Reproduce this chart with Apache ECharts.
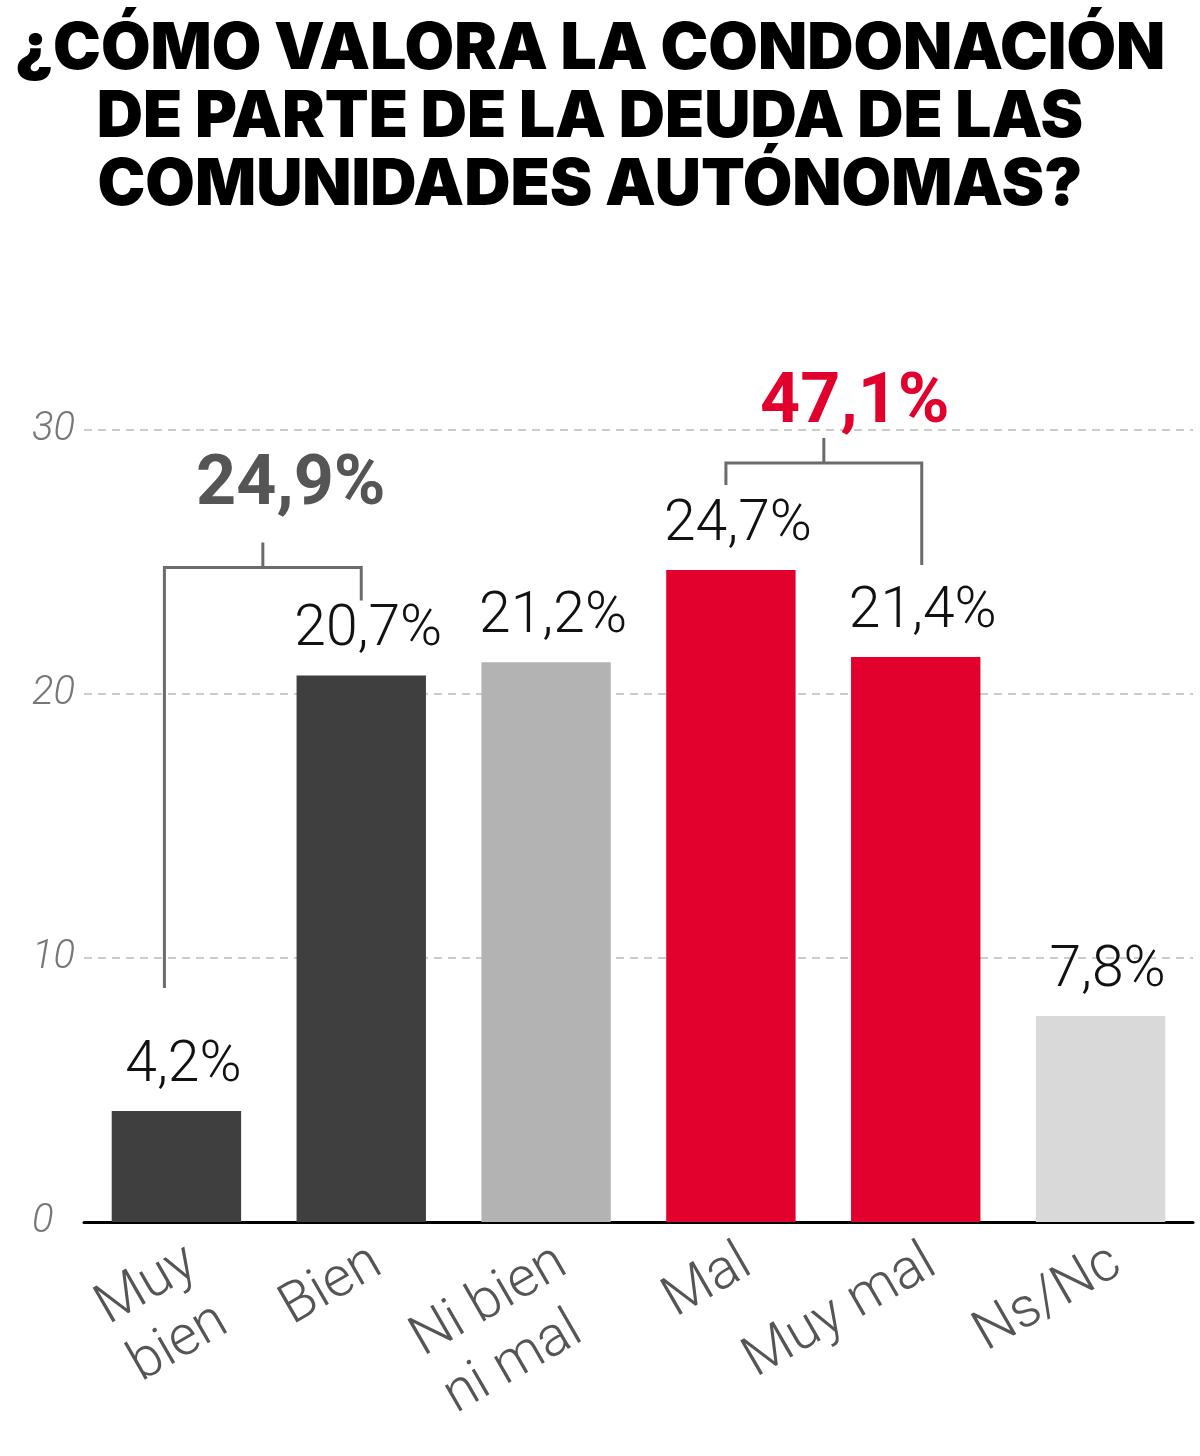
<!DOCTYPE html>
<html><head><meta charset="utf-8">
<script src="https://cdn.jsdelivr.net/npm/echarts@6/dist/echarts.min.js"></script>
<style>html,body{margin:0;padding:0;background:#fff}#c{width:1200px;height:1456px}</style>
</head><body><div id="c"></div>
<script>
// ---- data ----
const categories = ['Muy\nbien', 'Bien', 'Ni bien\nni mal', 'Mal', 'Muy mal', 'Ns/Nc'];
const values = [4.2, 20.7, 21.2, 24.7, 21.4, 7.8];
const yTicks = [0, 10, 20, 30];
const bracketFrom = [0, 3];
const bracketTo = [1, 4];
const bracketTotals = [24.9, 47.1];
const titleText = '¿CÓMO VALORA LA CONDONACIÓN\nDE PARTE DE LA DEUDA DE LAS\nCOMUNIDADES AUTÓNOMAS?';

// ---- styling (not data) ----
const barColors = ['#3f3f3f', '#3f3f3f', '#b3b3b3', '#e2002d', '#e2002d', '#d9d9d9'];
const bracketStyle = [
  {legGap: [123, 75], levelGap: 108, labelGap: 46, labelDx: 28, color: '#555555', dxL: -12, dxR: 0},
  {legGap: [85, 92], levelGap: 107, labelGap: 23, labelDx: 31, color: '#e2002d', dxL: -5, dxR: 6}
];
const fmt = v => v.toFixed(1).replace('.', ',') + '%';

const chart = echarts.init(document.getElementById('c'));
chart.setOption({
  animation: false,
  graphic: [{
    type: 'text', x: 590, y: 16,
    style: {text: titleText, align: 'center', verticalAlign: 'top', fill: '#000',
      fontFamily: 'Inter', fontWeight: 900, fontSize: 64, lineHeight: 68}
  }],
  grid: {left: 84, right: 7, top: 430, bottom: 234},
  xAxis: {
    type: 'category', data: categories,
    axisLine: {lineStyle: {color: '#000', width: 3}},
    axisTick: {show: false},
    axisLabel: {
      rotate: 30, interval: 0, margin: 9, align: 'right', verticalAlign: 'top',
      formatter: v => v.split('\n').map(s => '{l|' + s + '}').join('\n'),
      rich: {l: {align: 'left', fontFamily: 'Roboto', fontWeight: 300, fontSize: 56, lineHeight: 66, color: '#555'}}
    }
  },
  yAxis: {
    type: 'value', min: yTicks[0], max: yTicks[yTicks.length - 1], interval: 10,
    axisLine: {show: false}, axisTick: {show: false},
    axisLabel: {fontFamily: 'Roboto', fontStyle: 'italic', fontWeight: 300, fontSize: 40, color: '#777', align: 'left', margin: 52, padding: [0, 0, 10, 0]},
    splitLine: {lineStyle: {color: '#bbb', type: [8, 6], width: 1.5}}
  },
  series: [{
    type: 'bar', barWidth: '70%',
    data: values.map((v, i) => ({value: v, itemStyle: {color: barColors[i]}})),
    label: {show: true, position: 'top', distance: 16, offset: [7, 0], formatter: p => fmt(p.value),
      fontFamily: 'Roboto', fontWeight: 300, fontSize: 57, color: '#111'}
  }, {
    type: 'custom', clip: false, silent: true, z: 5,
    data: bracketFrom.map((f, k) => [f, bracketTo[k], bracketTotals[k], k]),
    encode: {x: [0, 1], y: 2},
    renderItem: function (params, api) {
      const f = api.value(0), t = api.value(1), tot = api.value(2), k = api.value(3);
      const s = bracketStyle[k];
      const pF = api.coord([f, values[f]]);
      const pT = api.coord([t, values[t]]);
      const level = Math.min(pF[1], pT[1]) - s.levelGap;
      const xL = pF[0] + s.dxL, xR = pT[0] + s.dxR;
      const xm = (xL + xR) / 2;
      const ls = {stroke: '#6b6b6b', lineWidth: 3, fill: null};
      return {type: 'group', children: [
        {type: 'polyline', shape: {points: [[xL, pF[1] - s.legGap[0]], [xL, level], [xR, level], [xR, pT[1] - s.legGap[1]]]}, style: ls},
        {type: 'line', shape: {x1: xm, y1: level, x2: xm, y2: level - 25}, style: ls},
        {type: 'text', x: xm + s.labelDx, y: level - s.labelGap, style: {text: fmt(tot), fontFamily: 'Roboto', fontWeight: 700, fontSize: 70, fill: s.color, align: 'center', verticalAlign: 'bottom'}}
      ]};
    }
  }]
});
</script></body></html>
